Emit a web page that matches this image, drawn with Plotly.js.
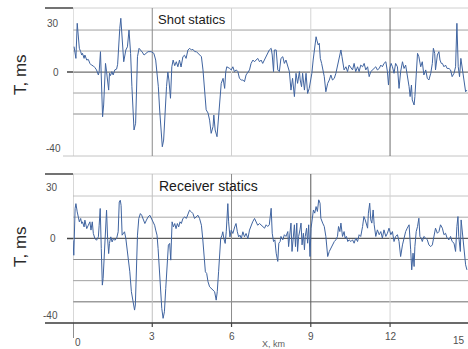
<!DOCTYPE html>
<html>
<head>
<meta charset="utf-8">
<script src="https://cdn.plot.ly/plotly-3.0.1.min.js"></script>
<style>html,body{margin:0;padding:0;background:#fff;}#chart{width:468px;height:349px;}</style>
</head>
<body>
<div id="chart"></div>
<script>
// ---------------- data ----------------
var shotX = [0.04,0.08,0.11,0.16,0.20,0.24,0.29,0.33,0.36,0.42,0.45,0.52,0.58,0.64,0.70,0.77,0.83,0.89,0.96,0.99,
1.04,1.08,1.12,1.16,1.19,1.23,1.27,1.31,1.35,1.38,1.42,1.47,1.52,1.58,1.65,1.69,1.72,1.77,1.81,1.87,
1.92,2.00,2.06,2.12,2.18,2.23,2.28,2.31,2.37,2.40,2.44,2.50,2.56,2.62,2.69,2.76,2.84,2.96,3.06,3.13,
3.18,3.23,3.28,3.33,3.38,3.43,3.48,3.54,3.59,3.63,3.69,3.74,3.79,3.85,3.91,3.97,4.03,4.09,4.16,4.22,
4.28,4.35,4.42,4.48,4.54,4.61,4.67,4.73,4.80,4.86,4.92,4.98,5.04,5.11,5.17,5.23,5.30,5.33,5.38,5.45,
5.50,5.55,5.61,5.68,5.74,5.78,5.82,5.93,5.99,6.05,6.11,6.18,6.24,6.30,6.37,6.43,6.49,6.55,6.62,6.68,
6.74,6.81,6.87,6.93,6.99,7.06,7.12,7.18,7.25,7.31,7.37,7.43,7.50,7.54,7.59,7.62,7.69,7.75,7.81,7.87,
7.94,8.00,8.06,8.13,8.19,8.25,8.31,8.38,8.44,8.50,8.57,8.60,8.65,8.69,8.76,8.82,8.88,8.94,9.01,9.04,
9.09,9.14,9.20,9.23,9.28,9.32,9.36,9.41,9.45,9.51,9.57,9.64,9.70,9.76,9.82,9.89,9.95,10.01,10.08,10.14,
10.18,10.23,10.26,10.33,10.39,10.45,10.52,10.58,10.64,10.70,10.77,10.83,10.89,10.96,11.02,11.08,11.15,11.21,11.27,11.33,
11.40,11.46,11.52,11.59,11.65,11.71,11.77,11.84,11.90,11.94,11.99,12.04,12.09,12.15,12.21,12.28,12.34,12.40,12.47,12.53,
12.59,12.65,12.72,12.76,12.81,12.84,12.91,12.94,12.99,13.04,13.09,13.16,13.22,13.28,13.35,13.41,13.47,13.54,13.60,13.64,
13.69,13.72,13.79,13.85,13.89,13.94,13.98,14.04,14.10,14.16,14.23,14.29,14.35,14.42,14.48,14.53,14.58,14.63,14.68,14.73,
14.79,14.86,14.91];
var shotT = [12.1,8.1,6.5,23.2,16.0,11.3,9.7,8.1,8.9,6.5,8.1,5.7,6.0,4.1,3.3,2.9,2.1,1.0,-1.4,0.2,
9.7,-7.8,-21.3,-15.7,-3.0,4.1,0.2,-5.4,-8.6,-0.6,-1.7,0.2,-1.4,1.0,1.4,3.7,11.3,20.8,25.6,15.2,
4.9,10.5,12.0,20.0,8.9,-7.0,-21.3,-27.6,-24.4,-10.1,7.3,11.3,10.5,9.5,8.1,8.9,9.7,9.7,8.9,5.7,
0.1,-7.0,-18.1,-29.2,-35.6,-32.4,-18.0,-7.0,0.0,-3.8,-12.5,2.5,5.7,3.0,4.9,2.5,5.7,2.4,7.3,8.0,
6.5,10.5,11.3,10.5,10.8,9.7,9.7,8.9,8.1,7.3,1.0,-10.0,-18.0,-19.5,-22.9,-29.2,-26.0,-20.5,-27.6,-30.8,
-23.0,-13.3,-5.4,-3.0,-7.8,0.0,2.5,1.7,1.0,2.5,0.2,1.0,0.2,-3.0,-3.8,-3.8,-4.6,-1.4,0.2,1.0,
4.1,5.7,4.9,5.7,6.5,4.9,5.7,4.1,5.7,7.3,8.9,10.5,11.3,8.1,0.2,10.5,10.5,1.0,0.2,6.5,
7.3,4.1,5.7,2.5,0.2,-8.6,-3.0,-11.7,-0.6,-5.4,0.2,-3.8,-7.0,-0.6,-8.6,-0.6,-10.2,-7.8,-3.8,-0.6,
5.7,9.7,16.8,15.2,12.9,13.7,6.5,4.1,1.0,-2.2,-9.4,-5.4,-3.8,-1.4,-3.8,-3.0,-0.6,2.5,6.5,10.5,
7.3,4.1,1.0,2.5,0.2,3.3,1.7,1.0,4.1,0.2,2.5,0.2,3.3,2.5,4.1,1.0,2.5,-2.2,0.2,1.0,
1.7,2.5,1.0,1.7,3.3,2.5,4.1,4.9,0.2,-6.2,1.7,4.1,2.5,-0.6,4.1,2.5,-7.8,0.2,4.9,1.7,
3.3,-0.6,-7.0,-11.7,-6.2,-13.3,-15.7,-11.7,-1.4,8.9,7.3,2.5,4.9,-1.4,1.0,-3.0,-3.8,-0.6,4.1,11.3,
8.9,1.0,8.1,9.7,5.7,4.1,4.1,2.5,3.3,1.7,1.7,1.0,-2.2,-0.6,2.5,23.2,2.5,-2.2,6.5,2.5,
-3.8,-9.4,-8.6];

var recX = [0.00,0.03,0.08,0.11,0.16,0.20,0.24,0.29,0.33,0.36,0.42,0.45,0.52,0.58,0.64,0.68,0.73,0.77,0.83,0.89,
0.96,0.99,1.03,1.07,1.11,1.14,1.18,1.23,1.27,1.31,1.35,1.38,1.43,1.48,1.53,1.58,1.65,1.71,1.75,1.79,
1.82,1.86,1.90,1.95,2.00,2.05,2.10,2.15,2.21,2.28,2.33,2.36,2.40,2.44,2.49,2.55,2.60,2.65,2.72,2.78,
2.84,2.91,2.97,3.03,3.09,3.13,3.18,3.22,3.26,3.31,3.36,3.41,3.46,3.51,3.56,3.61,3.66,3.70,3.75,3.80,
3.85,3.90,3.95,4.00,4.05,4.10,4.16,4.23,4.29,4.35,4.41,4.48,4.54,4.60,4.67,4.73,4.79,4.86,4.91,4.96,
5.01,5.06,5.11,5.17,5.23,5.30,5.36,5.42,5.46,5.51,5.55,5.59,5.64,5.67,5.71,5.76,5.80,5.84,5.86,5.89,
5.94,5.99,6.05,6.12,6.17,6.22,6.27,6.32,6.37,6.43,6.49,6.55,6.62,6.68,6.74,6.80,6.87,6.93,6.99,7.06,
7.12,7.18,7.25,7.31,7.37,7.43,7.50,7.54,7.59,7.64,7.69,7.75,7.79,7.84,7.87,7.94,8.00,8.06,8.13,8.16,
8.21,8.25,8.29,8.34,8.38,8.42,8.47,8.50,8.54,8.59,8.63,8.67,8.72,8.76,8.79,8.84,8.88,8.92,8.97,9.01,
9.04,9.10,9.15,9.20,9.25,9.30,9.35,9.38,9.45,9.51,9.57,9.64,9.70,9.76,9.82,9.89,9.95,10.01,10.05,10.10,
10.14,10.20,10.26,10.30,10.35,10.40,10.45,10.52,10.58,10.64,10.70,10.77,10.83,10.89,10.96,11.01,11.06,11.11,11.15,11.18,
11.23,11.27,11.31,11.36,11.40,11.46,11.52,11.59,11.65,11.71,11.77,11.84,11.90,11.96,12.03,12.09,12.15,12.21,12.28,12.34,
12.40,12.47,12.53,12.59,12.65,12.72,12.78,12.82,12.87,12.91,12.94,12.99,13.04,13.09,13.13,13.18,13.22,13.28,13.35,13.41,
13.47,13.54,13.60,13.66,13.72,13.79,13.85,13.91,13.98,14.04,14.10,14.16,14.23,14.29,14.35,14.42,14.48,14.53,14.57,14.60,
14.66,14.69,14.73,14.79,14.86,14.91];
var recT = [-1.0,-8.0,14.1,16.4,12.5,10.1,7.8,9.4,7.0,7.8,5.4,8.6,4.6,6.2,7.8,3.9,7.8,2.3,-0.1,-0.9,
0.7,6.2,14.1,-4.8,-22.1,-19.0,-7.9,3.9,13.3,-0.1,-7.2,-2.4,0.7,-1.7,-0.1,-0.9,-0.1,3.1,17.2,18.0,
15.6,1.5,2.3,3.1,-0.1,-4.8,-9.5,-15.8,-25.2,-30.0,-33.9,-31.5,-15.8,1.5,9.4,11.7,10.9,9.4,7.0,8.6,
10.1,10.9,9.4,7.8,6.2,3.9,1.5,-4.8,-12.7,-25.2,-33.1,-37.8,-34.7,-23.7,-11.1,-3.2,-2.4,-10.3,7.8,5.4,
7.0,4.6,7.0,5.4,7.8,7.0,9.4,10.1,9.4,11.7,13.3,12.5,11.7,9.4,10.1,10.9,9.4,6.2,-0.1,-7.9,
-15.8,-16.6,-20.5,-22.9,-23.7,-24.5,-25.2,-29.2,-25.2,-15.8,-7.9,-0.1,1.5,3.1,-0.1,-2.4,3.1,12.5,16.4,7.8,
0.7,3.9,2.3,5.4,7.0,3.1,0.7,1.5,-0.1,3.1,0.7,2.3,-0.1,3.9,6.2,7.8,9.4,7.8,6.2,7.0,
6.2,5.4,4.8,6.4,5.6,6.4,14.2,2.4,-1.5,-0.7,-7.0,-10.9,-2.3,-1.5,0.9,-0.7,1.7,0.9,3.2,-3.9,
4.8,7.2,-6.2,1.7,6.4,-3.9,7.2,-6.2,0.9,4.0,7.2,-3.1,2.4,-5.4,0.9,4.8,-2.3,6.4,-8.6,4.8,
7.2,13.4,11.9,15.0,12.7,18.2,16.6,9.5,7.2,5.6,0.9,-8.6,-6.2,-4.6,-3.1,-1.5,-0.7,0.9,5.6,3.2,
7.2,0.9,3.2,0.1,0.9,-1.5,-0.7,-1.5,-0.7,-2.3,0.1,-1.5,1.7,0.9,5.6,10.3,8.7,6.4,4.8,11.9,
16.6,8.7,7.2,13.4,6.4,0.9,4.0,1.7,3.2,0.1,4.0,0.9,2.4,4.8,1.7,3.2,-1.5,0.9,1.7,-1.5,
-8.6,-3.1,0.9,3.2,4.8,6.4,-5.4,-14.9,-7.0,-13.3,-3.9,3.2,5.6,9.5,0.9,0.1,-1.5,0.9,0.1,-0.7,
-3.1,-3.9,-3.1,0.9,4.8,2.4,3.2,6.4,4.8,1.7,2.4,0.1,-0.7,0.9,-1.5,-2.3,-6.2,5.6,10.3,0.9,
-6.2,8.7,3.2,-3.1,-12.5,-14.9];

var panelTitles = ["Shot statics", "Receiver statics"];
var yTickVals = [30, 0, -40];
var xTickVals = [0, 3, 6, 9, 12, 15];
var yTitle = "T, ms";
var xTitle = "X, km";

// ---------------- layout helpers (pixel -> paper) ----------------
var L = 73, R = 468, T = 8, B = 323;
function px(x) { return (x - L) / (R - L); }
function py(y) { return (B - y) / (B - T); }
var XMAX = 14.95;
var FONT = "Liberation Sans, Arial, Helvetica, sans-serif";
var lineColor = "#4064a0";

var traces = [
  {x: shotX, y: shotT, type: "scatter", mode: "lines", xaxis: "x", yaxis: "y",
   line: {color: lineColor, width: 1}, hoverinfo: "x+y", showlegend: false},
  {x: recX, y: recT, type: "scatter", mode: "lines", xaxis: "x2", yaxis: "y2",
   line: {color: lineColor, width: 1}, hoverinfo: "x+y", showlegend: false}
];

var shapes = [];
function hline(yref, y, color, w, x0) {
  shapes.push({type: "line", layer: "below", xref: "paper", yref: yref,
    x0: (x0 === undefined ? 0 : x0), x1: 1, y0: y, y1: y, line: {color: color, width: w || 1}});
}
function vline(xref, yref, x, color, w) {
  shapes.push({type: "line", layer: "below", xref: xref, yref: yref,
    x0: x, x1: x, y0: 0, y1: 1, line: {color: color, width: w || 1}});
}
function seg(x0, y0, x1, y1, color, w) {
  shapes.push({type: "line", layer: "above", xref: "paper", yref: "paper",
    x0: x0, x1: x1, y0: y0, y1: y1, line: {color: color, width: w || 1}});
}

// top panel grid
hline("y", 20, "#a0a0a0"); hline("y", 10, "#a8a8a8"); hline("y", 0, "#707070", 1.2);
hline("y", -10, "#a0a0a0"); hline("y", -20, "#8c8c8c");
hline("y domain", 1, "#d0d0d0"); hline("y domain", 0, "#c4c4c4", 1, px(63));
vline("x", "y domain", 3, "#8a8a8a"); vline("x", "y domain", 6, "#d0d0d0");
vline("x", "y domain", 9, "#d4d4d4"); vline("x", "y domain", 12, "#6c6c6c");
vline("x", "y domain", 0, "#c0c0c0");
// bottom panel grid
hline("y2", 20, "#c4c4c4"); hline("y2", 10, "#a8a8a8"); hline("y2", 0, "#5c5c5c", 1.2);
hline("y2", -10, "#909090"); hline("y2", -20, "#a0a0a0"); hline("y2", -30, "#6c6c6c");
hline("y2 domain", 1, "#d0d0d0");
vline("x2", "y2 domain", 3, "#c0c0c0"); vline("x2", "y2 domain", 6, "#8c8c8c");
vline("x2", "y2 domain", 9, "#5a5a5a"); vline("x2", "y2 domain", 12, "#d4d4d4");
vline("x2", "y2 domain", 0, "#b0b0b0");

// dark tick extensions on the left
seg(px(45), py(8), 0, py(8), "#444", 1.5);
seg(px(67), py(72), 0, py(72), "#444", 1.5);
seg(px(45), py(174), 0, py(174), "#444", 1.5);
seg(px(67), py(238.5), 0, py(238.5), "#444", 1.5);
// bottom axis line
seg(px(45), py(323), 1, py(323), "#3a3a3a", 1.6);
// x ticks below
xTickVals.forEach(function (v, i) {
  shapes.push({type: "line", layer: "above", xref: "x2", yref: "paper",
    x0: v, x1: v, y0: 0, y1: py(i === 0 ? 338 : 327), line: {color: "#444", width: 1.2}});
});

var ann = [];
function txt(t, x, y, size, color, opts) {
  var a = {text: t, xref: "paper", yref: "paper", x: px(x), y: py(y), showarrow: false,
    xanchor: "center", yanchor: "middle", font: {family: FONT, size: size, color: color}};
  if (opts) for (var k in opts) a[k] = opts[k];
  ann.push(a);
}
// y tick labels
var topTickPix = [[53, 23], [56, 72], [53, 148]];
var botTickPix = [[52, 187], [53, 238], [50, 315]];
yTickVals.forEach(function (v, i) {
  txt(String(v), topTickPix[i][0], topTickPix[i][1], 10, "#505050");
  txt(String(v), botTickPix[i][0], botTickPix[i][1], 10, "#505050");
});
// x tick labels
var xTickPix = [[78, 342], [152, 336], [232, 336], [311, 336], [391, 336], [459, 340]];
xTickVals.forEach(function (v, i) {
  txt(String(v), xTickPix[i][0], xTickPix[i][1], 10, "#505050");
});
txt(xTitle, 273, 344, 9, "#606060");
// axis titles
txt(yTitle, 20, 75, 17, "#2a2a2a", {textangle: -90});
txt(yTitle, 20, 247, 17, "#2a2a2a", {textangle: -90});
// panel titles
txt(panelTitles[0], 192, 20, 13, "#1a1a1a", {bgcolor: "#ffffff", borderpad: 1});
txt(panelTitles[1], 157, 186, 14, "#1a1a1a", {xanchor: "left"});

var axisBase = {range: [0, XMAX], showgrid: false, zeroline: false, showline: false,
  showticklabels: false, ticks: ""};
var yBase = {showgrid: false, zeroline: false, showline: false, showticklabels: false, ticks: ""};

var layout = {
  width: 468, height: 349,
  margin: {l: L, r: 468 - R, t: T, b: 349 - B},
  paper_bgcolor: "#ffffff", plot_bgcolor: "#ffffff",
  showlegend: false,
  xaxis: Object.assign({}, axisBase, {anchor: "y"}),
  yaxis: Object.assign({}, yBase, {range: [-40, 30.5], domain: [py(156), 1], anchor: "x"}),
  xaxis2: Object.assign({}, axisBase, {anchor: "y2"}),
  yaxis2: Object.assign({}, yBase, {range: [-40, 30.4], domain: [0, py(174)], anchor: "x2"}),
  shapes: shapes,
  annotations: ann
};

Plotly.newPlot("chart", traces, layout, {displayModeBar: false, staticPlot: true});
</script>
</body>
</html>
